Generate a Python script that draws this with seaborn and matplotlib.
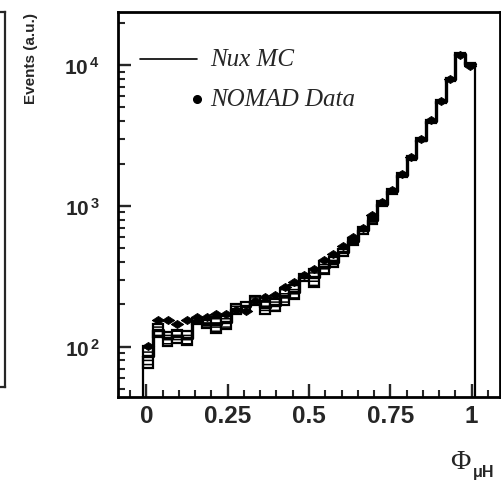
import numpy as np
import pandas as pd
import matplotlib
matplotlib.use("Agg")
import matplotlib.pyplot as plt
from matplotlib.ticker import MultipleLocator, FixedLocator, LogLocator, NullFormatter, FuncFormatter
from matplotlib.lines import Line2D
import seaborn as sns

# Binning of the muon-hadron angle variable
bin_lo, bin_hi, n_bins = -0.01, 1.01, 34

# NOMAD data (events per bin)
data_events = [102, 156, 156, 144, 156, 163, 163, 172, 172, 183,
               180, 213, 227, 235, 267, 286, 321, 359, 411, 459,
               518, 605, 700, 860, 1060, 1290, 1680, 2220, 3000, 4050,
               5600, 8000, 11800, 9900]

# Nux Monte Carlo prediction and its statistical uncertainty
mc_events = [86, 131, 115, 119, 116, 153, 146, 145, 149, 186,
             194, 213, 191, 199, 228, 246, 312, 312, 367, 403,
             470, 560, 670, 790, 1040, 1270, 1650, 2180, 2950, 4000,
             5550, 7900, 12000, 10200]
mc_err = [15, 14, 13, 13, 13, 8, 10, 19, 16, 16,
          15, 16, 21, 20, 29, 27, 19, 46, 40, 34,
          28, 34, 40, 47, 45, 50, 55, 65, 80, 100,
          130, 170, 230, 220]

x_ticks = [0, 0.25, 0.5, 0.75, 1]
x_tick_labels = ["0", "0.25", "0.5", "0.75", "1"]

edges = np.linspace(bin_lo, bin_hi, n_bins + 1)
centers = 0.5 * (edges[:-1] + edges[1:])
width = edges[1] - edges[0]

df = pd.DataFrame({"phi": centers, "data": data_events,
                   "mc": mc_events, "mc_err": mc_err})

sns.set_style("ticks")
plt.rcParams["font.family"] = ["Liberation Sans", "DejaVu Sans"]
plt.rcParams["mathtext.fontset"] = "custom"
plt.rcParams["mathtext.rm"] = "Liberation Sans:bold"
plt.rcParams["mathtext.bf"] = "Liberation Sans:bold"
plt.rcParams["hatch.linewidth"] = 1.1
plt.rcParams["hatch.color"] = "black"

fig = plt.figure(figsize=(5.02, 4.85), dpi=100)
ax = fig.add_axes([118 / 502, 1 - 398 / 485, 382 / 502, 385.5 / 485])
ax.set_yscale("log")

# MC uncertainty boxes
ax.bar(df["phi"], 2 * df["mc_err"], bottom=df["mc"] - df["mc_err"], width=width,
       facecolor="white", edgecolor="black", linewidth=1.6, hatch="----", zorder=2)

# MC histogram outline
sns.histplot(data=df, x="phi", weights="mc", bins=n_bins, binrange=(bin_lo, bin_hi),
             element="step", fill=False, color="black", linewidth=2.4, ax=ax, zorder=3)
ax.vlines([edges[0], edges[-1]], 1, [mc_events[0], mc_events[-1]],
          colors="black", linewidth=1.6, zorder=3)

# Data points (wide diamonds)
diamond = [(-1.0, 0.0), (0.0, 0.65), (1.0, 0.0), (0.0, -0.65), (-1.0, 0.0)]
sns.scatterplot(data=df, x="phi", y="data", marker=diamond, color="black", s=80,
                edgecolor="black", linewidth=0.6, ax=ax, zorder=4)

ax.set_xlim(-0.0875, 1.0875)
ax.set_ylim(44, 24000)

ax.xaxis.set_major_locator(FixedLocator(x_ticks))
ax.xaxis.set_minor_locator(MultipleLocator(0.05))
ax.set_xticklabels(x_tick_labels)
ax.yaxis.set_major_locator(LogLocator(base=10, numticks=10))
ax.yaxis.set_minor_locator(LogLocator(base=10, subs=np.arange(2, 10), numticks=20))
ax.yaxis.set_minor_formatter(NullFormatter())
ax.yaxis.set_major_formatter(FuncFormatter(
    lambda v, p: r"$\mathbf{10^{\,%d}}$" % int(round(np.log10(v)))))

ax.tick_params(axis="both", which="major", direction="in", length=9.5, width=1.7)
ax.tick_params(axis="both", which="minor", direction="in", length=5, width=1.5)
ax.tick_params(axis="x", which="major", labelsize=17.5, pad=5)
ax.tick_params(axis="y", which="major", labelsize=15, pad=13)
for lab in ax.get_xticklabels():
    lab.set_fontweight("bold")
for side in ["left", "right", "top", "bottom"]:
    ax.spines[side].set_linewidth(2.0)
    ax.spines[side].set_color("black")

ax.set_xlabel("")
ax.set_ylabel("Events (a.u.)", fontsize=11, fontweight="heavy", loc="top", labelpad=19)

# Legend
ax.add_line(Line2D([0.058, 0.207], [0.877, 0.877], transform=ax.transAxes,
                   color="black", linewidth=1.2))
ax.text(0.241, 0.877, "Nux MC", transform=ax.transAxes, va="center", ha="left",
        fontsize=18, fontstyle="italic", family="Liberation Serif")
ax.add_line(Line2D([0.207], [0.773], transform=ax.transAxes, marker="o",
                   markersize=5.5, color="black", linestyle="none"))
ax.text(0.241, 0.773, "NOMAD Data", transform=ax.transAxes, va="center", ha="left",
        fontsize=18, fontstyle="italic", family="Liberation Serif")

# Axis title Phi_muH
fig.text(450 / 502, 1 - 469 / 485, "Φ", fontsize=20, family="Liberation Serif",
         ha="left", va="baseline")
fig.text(473 / 502, 1 - 477 / 485, "μH", fontsize=11.5, fontweight="bold",
         ha="left", va="baseline")

# Edge of the neighbouring panel
ax_left = fig.add_axes([-0.5, 1 - 388 / 485, 0.5 + 5 / 502, (388 - 13) / 485])
ax_left.set_xticks([])
ax_left.set_yticks([])
for side in ["left", "right", "top", "bottom"]:
    ax_left.spines[side].set_linewidth(1.6)

fig.savefig("out.png", dpi=100)
